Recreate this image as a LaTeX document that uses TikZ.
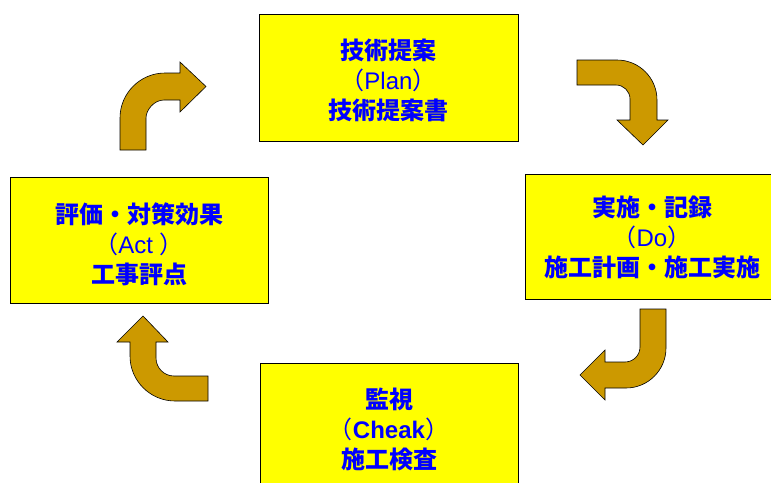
\documentclass[tikz,border=0pt]{standalone}
\usepackage{fontspec}
\setmainfont{Liberation Sans}
\newfontfamily\jpfont{Noto Sans CJK JP}
\definecolor{arrowgold}{RGB}{204,153,0}
\definecolor{boxyellow}{RGB}{255,255,0}
\definecolor{labelblue}{RGB}{0,0,255}
\newcommand{\jpb}[1]{{\jpfont\bfseries #1}}
\newcommand{\jpp}[1]{{\jpfont #1}}
\begin{document}
\begin{tikzpicture}[x=1pt,y=-1pt,
    pdca_box/.style={draw=black,line width=0.9pt,fill=boxyellow,inner sep=0pt},
    pdca_text/.style={text=labelblue,align=center,inner sep=0pt,font=\fontsize{24}{30}\selectfont},
    turn_arrow/.style={draw=black,line width=0.6pt,fill=arrowgold,line join=miter}]
    \useasboundingbox (0,0) rectangle (771,482);
    \clip (0,0) rectangle (771,482);
    % the four boxes
    \node[pdca_box,minimum width=259pt,minimum height=127pt] (plan) at (388.5,77.5) {};
    \node[pdca_box,minimum width=254pt,minimum height=125pt] (do) at (652,236.5) {};
    \node[pdca_box,minimum width=258pt,minimum height=130pt] (check) at (389,428) {};
    \node[pdca_box,minimum width=258pt,minimum height=126pt] (act) at (139,240) {};
    % texts
    \node[pdca_text] (plan_text) at ([yshift=-3pt]plan.center)
        {\jpb{技術提案}\\\jpp{（}Plan\jpp{）}\\\jpb{技術提案書}};
    \node[pdca_text] (do_text) at ([yshift=-1pt]do.center)
        {\jpb{実施・記録}\\\jpp{（}Do\jpp{）}\\\jpb{施工計画・施工実施}};
    \node[pdca_text] (check_text) at ([yshift=-1pt]check.center)
        {\jpb{監視}\\\jpp{（}\textbf{Cheak}\jpp{）}\\\jpb{施工検査}};
    \node[pdca_text] (act_text) at ([yshift=-4pt]act.center)
        {\jpb{評価・対策効果}\\\jpp{（}Act \jpp{）}\\\jpb{工事評点}};
    % bent arrows
    \draw[turn_arrow] (120,150) -- (120,118) .. controls (120,93.2) and (140.2,73) .. (165,73)
        -- (180,73) -- (180,62) -- (206,86.5) -- (180,112) -- (180,100) -- (164,100)
        .. controls (154.1,100) and (146,109.9) .. (146,118) -- (146,150) -- cycle;
    \draw[turn_arrow] (577,60) -- (617,60) .. controls (639.1,60) and (657,77.9) .. (657,100)
        -- (657,120) -- (668,120) -- (643,145) -- (617,120) -- (630,120) -- (630,99)
        .. controls (630,91.3) and (623.7,85) .. (616,85) -- (577,85) -- cycle;
    \draw[turn_arrow] (640,309) -- (666,309) -- (666,348) .. controls (666,370.1) and (648.1,388) .. (626,388)
        -- (605,388) -- (605,400) -- (580,375) -- (605,350) -- (605,362) -- (625,362)
        .. controls (633.3,362) and (640,355.3) .. (640,347) -- cycle;
    \draw[turn_arrow] (208,376) -- (208,401) -- (175,401) .. controls (150.2,401) and (130,380.8) .. (130,356)
        -- (130,342) -- (117,342) -- (143,316) -- (168,342) -- (156,342) -- (156,358)
        .. controls (156,367.9) and (164.1,376) .. (174,376) -- cycle;
\end{tikzpicture}
\end{document}
